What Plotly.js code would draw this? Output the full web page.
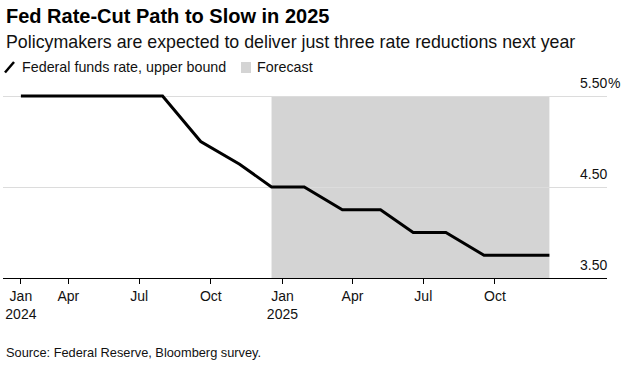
<!DOCTYPE html>
<html>
<head>
<meta charset="utf-8">
<script src="https://cdn.plot.ly/plotly-3.0.1.min.js"></script>
<style>html,body{margin:0;padding:0;background:#fff;}#chart{width:628px;height:365px;}</style>
</head>
<body>
<div id="chart"></div>
<script>
// Data: FOMC meeting dates and federal funds rate upper bound (%)
const meetingDates = ['2024-01-31','2024-03-20','2024-05-01','2024-06-12','2024-07-31','2024-09-18','2024-11-07','2024-12-18','2025-01-29','2025-03-19','2025-05-07','2025-06-18','2025-07-30','2025-09-17','2025-10-29','2025-12-10'];
const upperBound = [5.50,5.50,5.50,5.50,5.50,5.00,4.75,4.50,4.50,4.25,4.25,4.00,4.00,3.75,3.75,3.75];
const forecastStart = '2024-12-18';
const forecastEnd = '2025-12-10';
const xTickVals = ['2024-01-31','2024-04-01','2024-07-01','2024-10-01','2025-01-01','2025-04-01','2025-07-01','2025-10-01'];
const xTickText = ['Jan<br>2024','Apr','Jul','Oct','Jan<br>2025','Apr','Jul','Oct'];
const yTickVals = [3.5, 4.5, 5.5];
const yTickText = ['3.50', '4.50', '5.50'];
const yTopSuffix = '%';

const W = 628, H = 365;
const M = {l: 3, r: 21, t: 85, b: 87};
const PW = W - M.l - M.r, PH = H - M.t - M.b;
const px = x => (x - M.l) / PW;
const py = y => (H - M.b - y) / PH;
const FONT = 'Liberation Sans, Arial, sans-serif';
const TXT = '#111';

const annotations = [
  {text: '<b>Fed Rate-Cut Path to Slow in 2025</b>', x: px(4), y: py(16), font: {size: 20, color: '#000'}},
  {text: 'Policymakers are expected to deliver just three rate reductions next year', x: px(4), y: py(42), font: {size: 17.8, color: TXT}},
  {text: 'Federal funds rate, upper bound', x: px(20), y: py(67), font: {size: 14.3, color: TXT}},
  {text: 'Forecast', x: px(255), y: py(67), font: {size: 14.3, color: TXT}},
  {text: 'Source: Federal Reserve, Bloomberg survey.', x: px(4), y: py(352), font: {size: 12.8, color: TXT}}
].map(a => Object.assign({xref: 'paper', yref: 'paper', xanchor: 'left', yanchor: 'middle', showarrow: false}, a));

yTickVals.forEach((v, i) => {
  annotations.push({xref: 'paper', yref: 'y', x: 1, y: v, xanchor: 'right', yanchor: 'bottom', yshift: 3, xshift: 2,
    text: yTickText[i], showarrow: false, font: {size: 14, color: TXT}});
  if (i === yTickVals.length - 1) {
    annotations.push({xref: 'paper', yref: 'y', x: 1, y: v, xanchor: 'left', yanchor: 'bottom', yshift: 3, xshift: -1,
      text: yTopSuffix, showarrow: false, font: {size: 14, color: TXT}});
  }
});

const shapes = [
  {type: 'rect', xref: 'x', yref: 'y', x0: forecastStart, x1: forecastEnd, y0: 3.5, y1: 5.5,
   fillcolor: '#d4d4d4', line: {width: 0}, layer: 'below'},
  {type: 'line', xref: 'paper', yref: 'paper', x0: px(5), y0: py(72.5), x1: px(14), y1: py(62), line: {color: '#000', width: 2.5}},
  {type: 'rect', xref: 'paper', yref: 'paper', x0: px(241), y0: py(73), x1: px(251), y1: py(62), fillcolor: '#d4d4d4', line: {width: 0}}
];

const trace = {
  type: 'scatter', mode: 'lines', x: meetingDates, y: upperBound,
  line: {color: '#000', width: 3}, hoverinfo: 'skip', cliponaxis: false
};

const layout = {
  width: W, height: H, margin: M,
  paper_bgcolor: '#fff', plot_bgcolor: 'rgba(0,0,0,0)',
  font: {family: FONT, color: TXT},
  showlegend: false,
  xaxis: {
    type: 'date', range: ['2024-01-08', '2026-02-22'],
    tickmode: 'array', tickvals: xTickVals, ticktext: xTickText,
    ticks: 'outside', ticklen: 5, tickcolor: '#000', tickwidth: 1,
    showline: true, linecolor: '#000', linewidth: 1.3,
    showgrid: false, zeroline: false,
    tickfont: {size: 14, color: TXT}, fixedrange: true
  },
  yaxis: {
    range: [3.5, 3.5 + PH / 91],
    tickmode: 'array', tickvals: yTickVals, showticklabels: false,
    showgrid: true, gridcolor: '#dcdcdc', gridwidth: 1,
    zeroline: false, showline: false, ticks: '', fixedrange: true
  },
  shapes: shapes,
  annotations: annotations
};

Plotly.newPlot('chart', [trace], layout, {displayModeBar: false, staticPlot: true});
</script>
</body>
</html>
